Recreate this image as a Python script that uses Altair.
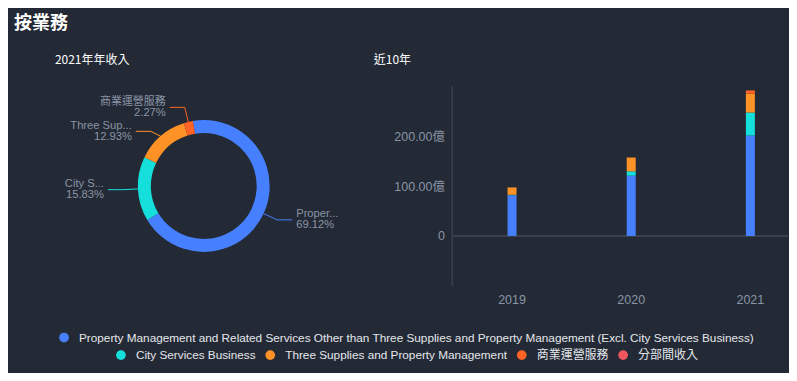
import math
import pandas as pd
import altair as alt

# ---------------- data ----------------
categories = [
    "Property Management and Related Services Other than Three Supplies and Property Management (Excl. City Services Business)",
    "City Services Business",
    "Three Supplies and Property Management",
    "商業運營服務",
    "分部間收入",
]
colors = ["#4680ff", "#14dfdb", "#ff9226", "#ff6426", "#f0565c"]

pie_share = [69.12, 15.83, 12.93, 2.27]
pie_short = ["Proper...", "City S...", "Three Sup...", "商業運營服務"]

years = ["2019", "2020", "2021"]
rev_property = [81.5, 120.7, 201.1]
rev_city = [1.0, 8.7, 46.1]
rev_three = [14.6, 27.6, 37.6]
rev_commercial = [0.0, 0.0, 6.6]
rev_inter = [0.0, 0.0, 0.0]

# ---------------- style ----------------
BG = "#232a35"
GRAY = "#8a94a6"
LINE = "#39424f"
LAT = "Liberation Sans, Noto Sans CJK TC, sans-serif"
CJK = "Noto Sans CJK TC, sans-serif"

color_scale = alt.Scale(domain=categories, range=colors)

AW = {" ": 278, "(": 333, ")": 333, ".": 278, ",": 278, "%": 889,
      "A": 667, "B": 667, "C": 722, "D": 722, "E": 667, "F": 611, "G": 778, "H": 722, "I": 278,
      "J": 500, "K": 667, "L": 556, "M": 833, "N": 722, "O": 778, "P": 667, "Q": 778, "R": 722,
      "S": 667, "T": 611, "U": 722, "V": 667, "W": 944, "X": 667, "Y": 667, "Z": 611,
      "a": 556, "b": 556, "c": 500, "d": 556, "e": 556, "f": 278, "g": 556, "h": 556, "i": 222,
      "j": 222, "k": 500, "l": 222, "m": 833, "n": 556, "o": 556, "p": 556, "q": 556, "r": 333,
      "s": 500, "t": 278, "u": 556, "v": 500, "w": 722, "x": 500, "y": 500, "z": 500}


def is_cjk(s):
    return any(ord(c) > 0x2E80 for c in s)


# ---------------- pie (with legend drawn below it) ----------------
PW, PH = 380, 230
PAGE_CX, PAGE_CY = 204, 185        # page position of the pie centre (view centre)
R_IN, R_OUT, R_ELB, L2 = 53, 66, 81, 15
OFF = -9.5
total = sum(pie_share)

pie_df = pd.DataFrame({"cat": categories[:4], "value": pie_share, "idx": range(4)})

labs = []
cum = 0.0
for i, p in enumerate(pie_share):
    mid = OFF + (cum + p / 2) / total * 360
    cum += p
    a = math.radians(mid)
    side = 1 if math.sin(a) >= 0 else -1
    labs.append(dict(i=i, side=side,
                     sx=R_OUT * math.sin(a), sy=R_OUT * math.cos(a),
                     ex=R_ELB * math.sin(a), ey=R_ELB * math.cos(a)))
for side in (1, -1):
    grp = sorted([l for l in labs if l["side"] == side], key=lambda l: -l["ey"])
    for k in range(1, len(grp)):
        grp[k]["ey"] = min(grp[k]["ey"], grp[k - 1]["ey"] - 24)

line_rows, text_rows = [], []
for l in labs:
    i = l["i"]
    endx = l["ex"] + l["side"] * L2
    for k, (x, y) in enumerate([(l["sx"], l["sy"]), (l["ex"], l["ey"]), (endx, l["ey"])]):
        line_rows.append(dict(cat=categories[i], pt=k, x=x, y=y))
    name = pie_short[i]
    text_rows.append(dict(cat=categories[i], side=l["side"], tx=endx + l["side"] * 4, ty=l["ey"],
                          name=name, pct=f"{pie_share[i]:.2f}%",
                          fs=11 if is_cjk(name) else 11.2))
line_df = pd.DataFrame(line_rows)
text_df = pd.DataFrame(text_rows)

xs = alt.Scale(domain=[-PW / 2, PW / 2], nice=False, zero=False)
ys = alt.Scale(domain=[-PH / 2, PH / 2], nice=False, zero=False)

arc = alt.Chart(pie_df).mark_arc(innerRadius=R_IN, outerRadius=R_OUT).encode(
    theta=alt.Theta("value:Q", stack=True,
                    scale=alt.Scale(range=[math.radians(OFF), math.radians(OFF) + 2 * math.pi])),
    color=alt.Color("cat:N", scale=color_scale, legend=None),
    order=alt.Order("idx:Q"),
)
leaders = alt.Chart(line_df).mark_line(strokeWidth=1).encode(
    x=alt.X("x:Q", scale=xs, axis=None),
    y=alt.Y("y:Q", scale=ys, axis=None),
    color=alt.Color("cat:N", scale=color_scale, legend=None),
    detail="cat:N",
    order="pt:Q",
)


def label_layer(side, field, dy):
    return alt.Chart(text_df).transform_filter(f"datum.side == {side}").mark_text(
        align="left" if side == 1 else "right", baseline="middle", dy=dy,
        font=LAT, color=GRAY,
    ).encode(
        x=alt.X("tx:Q", scale=xs, axis=None),
        y=alt.Y("ty:Q", scale=ys, axis=None),
        text=f"{field}:N",
        size=alt.Size("fs:Q", scale=None, legend=None) if field == "name" else alt.value(11.2),
    )


# legend rows (laid out from estimated label widths), in pie-centred pixel units
LEG_FS = 11.8


def text_w(s):
    if is_cjk(s):
        return 12 * len(s)
    return sum(AW.get(c, 556) for c in s) * LEG_FS / 1000


LEG_CENTER = 407.5 - PAGE_CX
ROW_Y = [PAGE_CY - 336.7, PAGE_CY - 354.3]
rows = [[0], [1, 2, 3, 4]]
leg_rows = []
for r, items in enumerate(rows):
    widths = [15 + text_w(categories[i]) for i in items]
    row_w = 5 + sum(widths) + 14.5 * (len(items) - 1)
    x = LEG_CENTER - row_w / 2 + 5
    for i, w in zip(items, widths):
        leg_rows.append(dict(cat=categories[i], ly=ROW_Y[r], sx=x, tx=x + 15,
                             fs=12 if is_cjk(categories[i]) else LEG_FS))
        x += w + 14.5
leg_df = pd.DataFrame(leg_rows)

leg_sym = alt.Chart(leg_df).mark_circle(size=95, opacity=1).encode(
    x=alt.X("sx:Q", scale=xs, axis=None),
    y=alt.Y("ly:Q", scale=ys, axis=None),
    color=alt.Color("cat:N", scale=color_scale, legend=None),
)
leg_txt = alt.Chart(leg_df).mark_text(align="left", baseline="middle", font=LAT,
                                      color="#e4e7ec").encode(
    x=alt.X("tx:Q", scale=xs, axis=None),
    y=alt.Y("ly:Q", scale=ys, axis=None),
    text="cat:N",
    size=alt.Size("fs:Q", scale=None, legend=None),
)

pie = alt.layer(
    arc, leaders,
    label_layer(1, "name", -5.5), label_layer(1, "pct", 5.5),
    label_layer(-1, "name", -5.5), label_layer(-1, "pct", 5.5),
    leg_sym, leg_txt,
).properties(
    width=PW, height=PH,
    title=alt.TitleParams("2021年年收入", anchor="start", dx=41, fontSize=12, font=CJK,
                          fontWeight="normal", color="#ffffff", baseline="bottom", offset=-7.5),
)

# ---------------- bars ----------------
series = [rev_property, rev_city, rev_three, rev_commercial, rev_inter]
bar_rows = []
for ci, vals in enumerate(series):
    for yi, y in enumerate(years):
        bar_rows.append(dict(year=y, cat=categories[ci], value=vals[yi], idx=ci))
bar_df = pd.DataFrame(bar_rows)

BW, BH = 336, 215
yscale = alt.Scale(domain=[-100, 330], nice=False, zero=False)

zero_rule = alt.Chart(bar_df).mark_rule(color=LINE, strokeWidth=1).encode(y=alt.datum(0))
axis_rule = alt.Chart(bar_df).mark_rule(color=LINE, strokeWidth=1).encode(
    x=alt.value(0), y=alt.datum(-100), y2=alt.datum(300))
bars = alt.Chart(bar_df).mark_bar(size=9).encode(
    x=alt.X("year:N", sort=years,
            scale=alt.Scale(paddingInner=0.5, paddingOuter=0.158, align=0.792),
            axis=alt.Axis(title=None, labelAngle=0, ticks=False, domain=False, labelPadding=8,
                          labelColor=GRAY, labelFontSize=12.5, labelFont=LAT)),
    y=alt.Y("value:Q", stack="zero", scale=yscale,
            axis=alt.Axis(title=None, values=[0, 100, 200], grid=False, ticks=False, domain=False,
                          labelPadding=8, labelColor=GRAY, labelFontSize=12.5, labelFont=LAT,
                          labelExpr="datum.value == 0 ? '0' : format(datum.value, '.2f') + '億'")),
    color=alt.Color("cat:N", scale=color_scale, legend=None),
    order=alt.Order("idx:Q", sort="ascending"),
)
bar = alt.layer(zero_rule, axis_rule, bars).properties(
    width=BW, height=BH,
    title=alt.TitleParams("近10年", anchor="start", dx=-20, fontSize=12, font=CJK,
                          fontWeight="normal", color="#ffffff", baseline="bottom", offset=-7.5),
)

# ---------------- compose ----------------
chart = alt.hconcat(pie, bar, spacing=59, bounds="flush").properties(
    title=alt.TitleParams("按業務", anchor="start", fontSize=18, font=CJK, fontWeight="bold",
                          color="#ffffff", offset=21),
    padding={"left": 6, "top": 6, "right": 0, "bottom": 10},
    background=BG,
).configure_view(stroke=None)

chart.save("out.html", embed_options={"renderer": "svg", "actions": False})
